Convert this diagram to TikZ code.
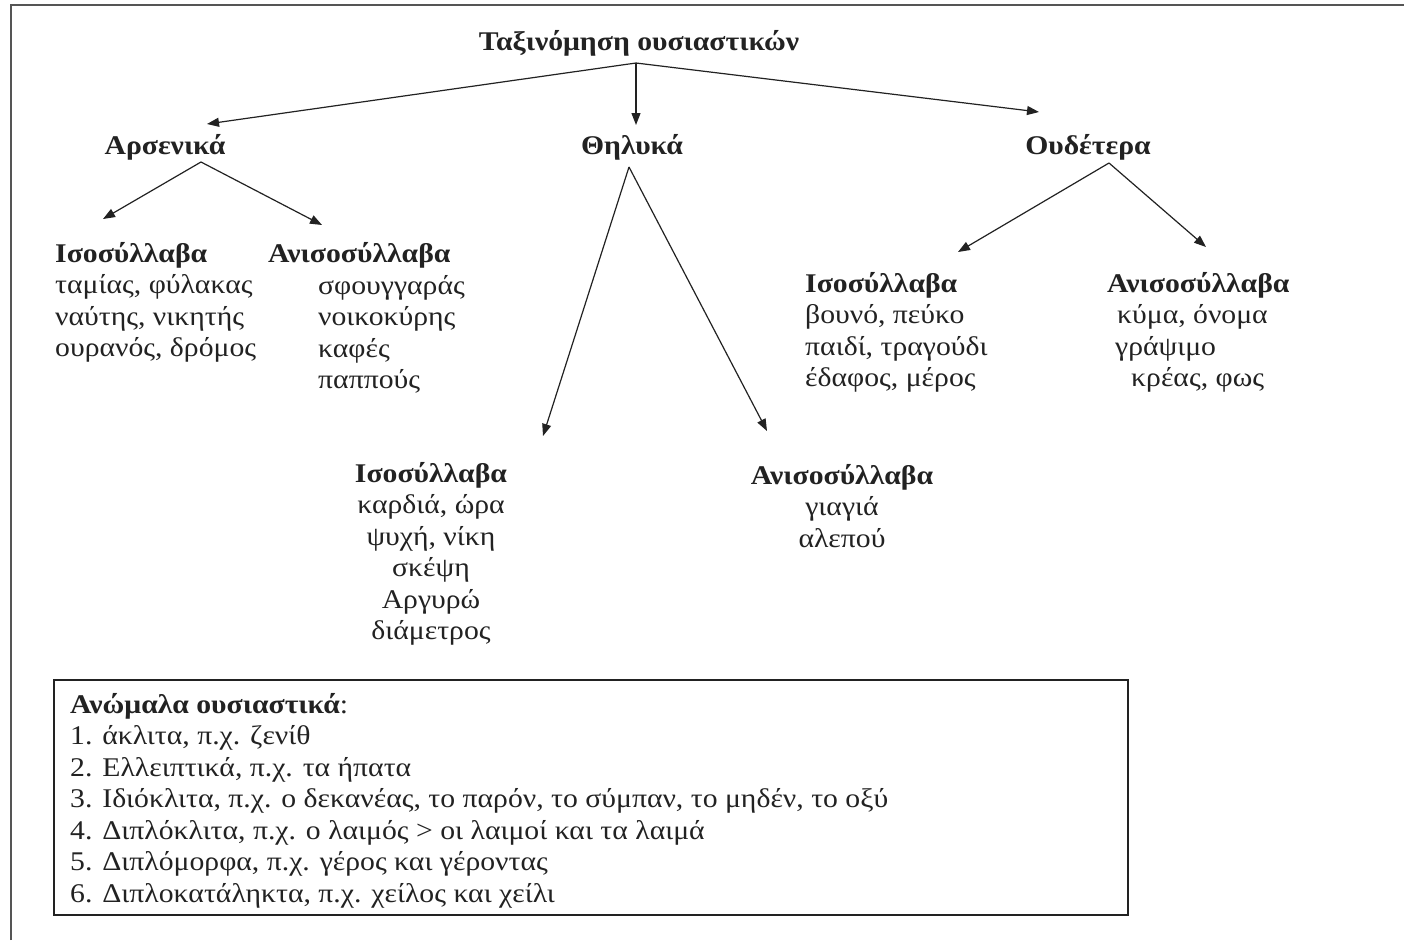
\documentclass[tikz,border=0pt]{standalone}
\usepackage{fontspec}
\setmainfont{Liberation Serif}[FakeStretch=1.1]
\usetikzlibrary{arrows.meta}
\definecolor{ink}{HTML}{222222}
\definecolor{frame}{HTML}{555555}
\begin{document}
\begin{tikzpicture}[x=1pt,y=-1pt,
  txt/.style={inner sep=0pt, font=\fontsize{27}{31.5}\selectfont, text=ink, align=left, anchor=north west},
  ctr/.style={txt, align=center, anchor=north},
  arr/.style={draw=ink, line width=1.2pt, -{Triangle[length=12pt,width=9pt]}}]
\useasboundingbox (0,0) rectangle (1404,940);
\fill[white] (0,0) rectangle (1404,940);
\draw[frame, line width=2.5pt] (11,940) -- (11,5) -- (1404,5);

% headings
\node[ctr] (title) at (639,28) {\strut\textbf{Ταξινόμηση ουσιαστικών}};
\node[ctr] (ars) at (165,132) {\strut\textbf{Αρσενικά}};
\node[ctr] (thi) at (632,132) {\strut\textbf{Θηλυκά}};
\node[ctr] (oud) at (1088,132) {\strut\textbf{Ουδέτερα}};

% Arsenika
\node[txt] (ai) at (55,240) {\strut\textbf{Ισοσύλλαβα}\\ταμίας, φύλακας\\ναύτης, νικητής\\ουρανός, δρόμος};
\node[txt] (aah) at (268,240) {\strut\textbf{Ανισοσύλλαβα}};
\node[txt] (aa) at (318,272) {\strut σφουγγαράς\\νοικοκύρης\\καφές\\παππούς};

% Thilyka
\node[ctr] (ti) at (431,460) {\strut\textbf{Ισοσύλλαβα}\\καρδιά, ώρα\\ψυχή, νίκη\\σκέψη\\Αργυρώ\\διάμετρος};
\node[ctr] (ta) at (842,462) {\strut\textbf{Ανισοσύλλαβα}\\γιαγιά\\αλεπού};

% Oudetera
\node[txt] (oi) at (805,270) {\strut\textbf{Ισοσύλλαβα}\\βουνό, πεύκο\\παιδί, τραγούδι\\έδαφος, μέρος};
\node[txt] (oah) at (1107,270) {\strut\textbf{Ανισοσύλλαβα}};
\node[txt] (oa) at (1115,301.5) {\strut\hspace*{2pt}κύμα, όνομα\\γράψιμο\\\hspace*{16pt}κρέας, φως};

% box
\node[draw=ink, line width=2pt, inner sep=0pt, minimum width=1074pt, minimum height=235pt, anchor=north west] (box) at (53,679) {};
\node[txt] (irr) at (70,691) {\strut\textbf{Ανώμαλα ουσιαστικά}:\\
1. άκλιτα, π.χ. ζενίθ\\
2. Ελλειπτικά, π.χ. τα ήπατα\\
3. Ιδιόκλιτα, π.χ. ο δεκανέας, το παρόν, το σύμπαν, το μηδέν, το οξύ\\
4. Διπλόκλιτα, π.χ. ο λαιμός > οι λαιμοί και τα λαιμά\\
5. Διπλόμορφα, π.χ. γέρος και γέροντας\\
6. Διπλοκατάληκτα, π.χ. χείλος και χείλι};

% connector points
\coordinate (r0) at (636,63);
\coordinate (aM) at (207,124);
\coordinate (aF) at (636,125);
\coordinate (aN) at (1039,112);
\coordinate (m0) at (201,162);
\coordinate (m1) at (103,219);
\coordinate (m2) at (322,225);
\coordinate (f0) at (629,167);
\coordinate (f1) at (543,436);
\coordinate (f2) at (767,431);
\coordinate (n0) at (1109,163);
\coordinate (n1) at (958,252);
\coordinate (n2) at (1206,247);

\draw[arr] (r0) -- (aM);
\draw[arr] (r0) -- (aF);
\draw[arr] (r0) -- (aN);
\draw[arr] (m0) -- (m1);
\draw[arr] (m0) -- (m2);
\draw[arr] (f0) -- (f1);
\draw[arr] (f0) -- (f2);
\draw[arr] (n0) -- (n1);
\draw[arr] (n0) -- (n2);
\end{tikzpicture}
\end{document}
